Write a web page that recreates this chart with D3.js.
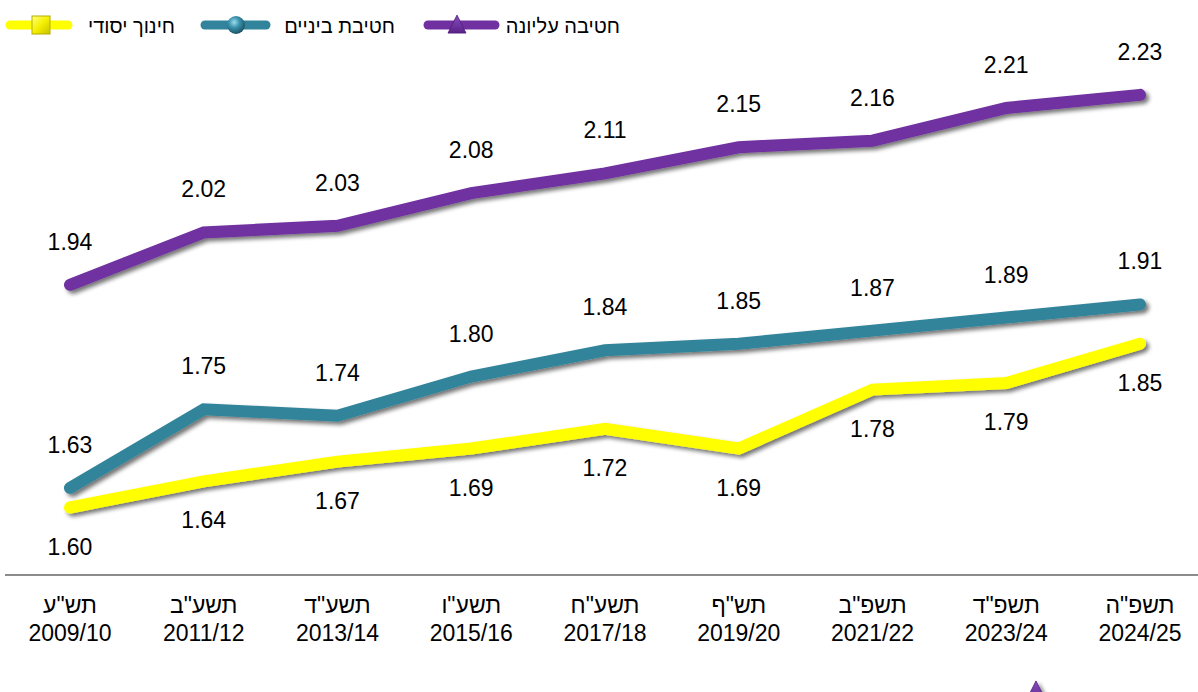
<!DOCTYPE html>
<html lang="he">
<head>
<meta charset="utf-8">
<script src="https://cdn.jsdelivr.net/npm/d3@7"></script>
<style>
  html, body { margin: 0; padding: 0; background: #fff; }
  svg { display: block; font-family: "Liberation Sans", Arial, sans-serif; }
</style>
</head>
<body>
<svg id="chart" width="1198" height="692"></svg>
<script>
// School years (Hebrew calendar + civil years)
const hebrewYears = ['תש"ע', 'תשע"ב', 'תשע"ד', 'תשע"ו', 'תשע"ח', 'תש"ף', 'תשפ"ב', 'תשפ"ד', 'תשפ"ה'];
const civilYears = ["2009/10", "2011/12", "2013/14", "2015/16", "2017/18", "2019/20", "2021/22", "2023/24", "2024/25"];

// Series values
const upperSecondary = [1.94, 2.02, 2.03, 2.08, 2.11, 2.15, 2.16, 2.21, 2.23];
const lowerSecondary = [1.63, 1.75, 1.74, 1.80, 1.84, 1.85, 1.87, 1.89, 1.91];
const primary = [1.60, 1.64, 1.67, 1.69, 1.72, 1.69, 1.78, 1.79, 1.85];

const seriesNames = ["חטיבה עליונה", "חטיבת ביניים", "חינוך יסודי"];

const series = [
  { name: seriesNames[0], values: upperSecondary, color: "#7030A0", marker: "triangle", labelPos: "above" },
  { name: seriesNames[1], values: lowerSecondary, color: "#31849B", marker: "sphere", labelPos: "above" },
  { name: seriesNames[2], values: primary, color: "#FFFF00", marker: "square", labelPos: "below" }
];

const svg = d3.select("#chart");
const W = 1198, H = 692;
const plot = { left: 70, right: 1140, top: 49, bottom: 573 };

const x = d3.scalePoint().domain(civilYears).range([plot.left, plot.right]);
const y = d3.scaleLinear().domain([1.5, 2.3]).range([plot.bottom, plot.top]);

const defs = svg.append("defs");

// soft shadow under the lines
const shadow = defs.append("filter").attr("id", "shadow")
  .attr("x", "-5%").attr("y", "-20%").attr("width", "110%").attr("height", "140%");
shadow.append("feGaussianBlur").attr("in", "SourceAlpha").attr("stdDeviation", 2).attr("result", "b");
shadow.append("feOffset").attr("in", "b").attr("dx", 3).attr("dy", 3).attr("result", "o");
shadow.append("feComponentTransfer").attr("in", "o").attr("result", "s")
  .append("feFuncA").attr("type", "linear").attr("slope", 0.55);
const merge = shadow.append("feMerge");
merge.append("feMergeNode").attr("in", "s");
merge.append("feMergeNode").attr("in", "SourceGraphic");

// gradients for legend markers
const sphereGrad = defs.append("radialGradient").attr("id", "sphereGrad")
  .attr("cx", "40%").attr("cy", "35%").attr("r", "65%");
sphereGrad.append("stop").attr("offset", "0%").attr("stop-color", "#9fdcef");
sphereGrad.append("stop").attr("offset", "45%").attr("stop-color", "#3a94ad");
sphereGrad.append("stop").attr("offset", "100%").attr("stop-color", "#1c5466");

const squareGrad = defs.append("linearGradient").attr("id", "squareGrad")
  .attr("x1", "0%").attr("y1", "0%").attr("x2", "100%").attr("y2", "100%");
squareGrad.append("stop").attr("offset", "0%").attr("stop-color", "#ffff80");
squareGrad.append("stop").attr("offset", "50%").attr("stop-color", "#f5f000");
squareGrad.append("stop").attr("offset", "100%").attr("stop-color", "#c8c000");

const triGrad = defs.append("linearGradient").attr("id", "triGrad")
  .attr("x1", "0%").attr("y1", "0%").attr("x2", "0%").attr("y2", "100%");
triGrad.append("stop").attr("offset", "0%").attr("stop-color", "#8a4cc0");
triGrad.append("stop").attr("offset", "100%").attr("stop-color", "#5a2288");

// category axis baseline
svg.append("line")
  .attr("x1", 5).attr("x2", W)
  .attr("y1", plot.bottom + 2).attr("y2", plot.bottom + 2)
  .attr("stroke", "#8c8c8c").attr("stroke-width", 2);

// category labels (two lines)
const xLabels = svg.append("g").attr("font-size", 23).attr("fill", "#000").attr("text-anchor", "middle");
civilYears.forEach((c, i) => {
  xLabels.append("text").attr("x", x(c)).attr("y", 613).attr("direction", "rtl").text(hebrewYears[i]);
  xLabels.append("text").attr("x", x(c)).attr("y", 641).text(c);
});

// lines
const line = d3.line().x((d, i) => x(civilYears[i])).y(d => y(d));
const linesG = svg.append("g").attr("filter", "url(#shadow)");
series.forEach(s => {
  linesG.append("path")
    .attr("d", line(s.values))
    .attr("fill", "none")
    .attr("stroke", s.color)
    .attr("stroke-width", 12)
    .attr("stroke-linejoin", "miter")
    .attr("stroke-linecap", "round");
});

// value labels
const labelsG = svg.append("g").attr("font-size", 23).attr("fill", "#000").attr("text-anchor", "middle");
series.forEach(s => {
  s.values.forEach((v, i) => {
    labelsG.append("text")
      .attr("x", x(civilYears[i]))
      .attr("y", y(v) + (s.labelPos === "above" ? -35 : 47))
      .text(v.toFixed(2));
  });
});

// legend markers
function drawMarker(g, type, cx, cy, size) {
  if (type === "triangle") {
    g.append("path")
      .attr("d", `M${cx},${cy - size * 0.55} L${cx + size * 0.5},${cy + size * 0.45} L${cx - size * 0.5},${cy + size * 0.45} Z`)
      .attr("fill", "url(#triGrad)").attr("stroke", "#4e1d78").attr("stroke-width", 0.8);
  } else if (type === "sphere") {
    g.append("circle").attr("cx", cx).attr("cy", cy).attr("r", size / 2)
      .attr("fill", "url(#sphereGrad)");
  } else {
    g.append("rect").attr("x", cx - size / 2).attr("y", cy - size / 2)
      .attr("width", size).attr("height", size)
      .attr("fill", "url(#squareGrad)").attr("stroke", "#b5ad00").attr("stroke-width", 1);
  }
}

// legend (right-to-left)
const legendItems = [
  { s: series[0], x0: 428, x1: 495, mx: 457, tx: 620 },
  { s: series[1], x0: 205, x1: 266, mx: 236, tx: 395 },
  { s: series[2], x0: 10, x1: 68, mx: 41, tx: 175 }
];
const legend = svg.append("g");
const ly = 25;
legendItems.forEach(it => {
  legend.append("line")
    .attr("x1", it.x0).attr("x2", it.x1).attr("y1", ly).attr("y2", ly)
    .attr("stroke", it.s.color).attr("stroke-width", 9).attr("stroke-linecap", "round");
  drawMarker(legend, it.s.marker, it.mx, ly, 18);
  legend.append("text")
    .attr("x", it.tx).attr("y", ly + 8)
    .attr("direction", "rtl")
    .attr("text-anchor", "start")
    .attr("font-size", 20)
    .text(it.s.name);
});

// stray marker at the lower edge
const stray = svg.append("g").attr("filter", "url(#shadow)");
drawMarker(stray, "triangle", 1036, 693, 22);
</script>
</body>
</html>
